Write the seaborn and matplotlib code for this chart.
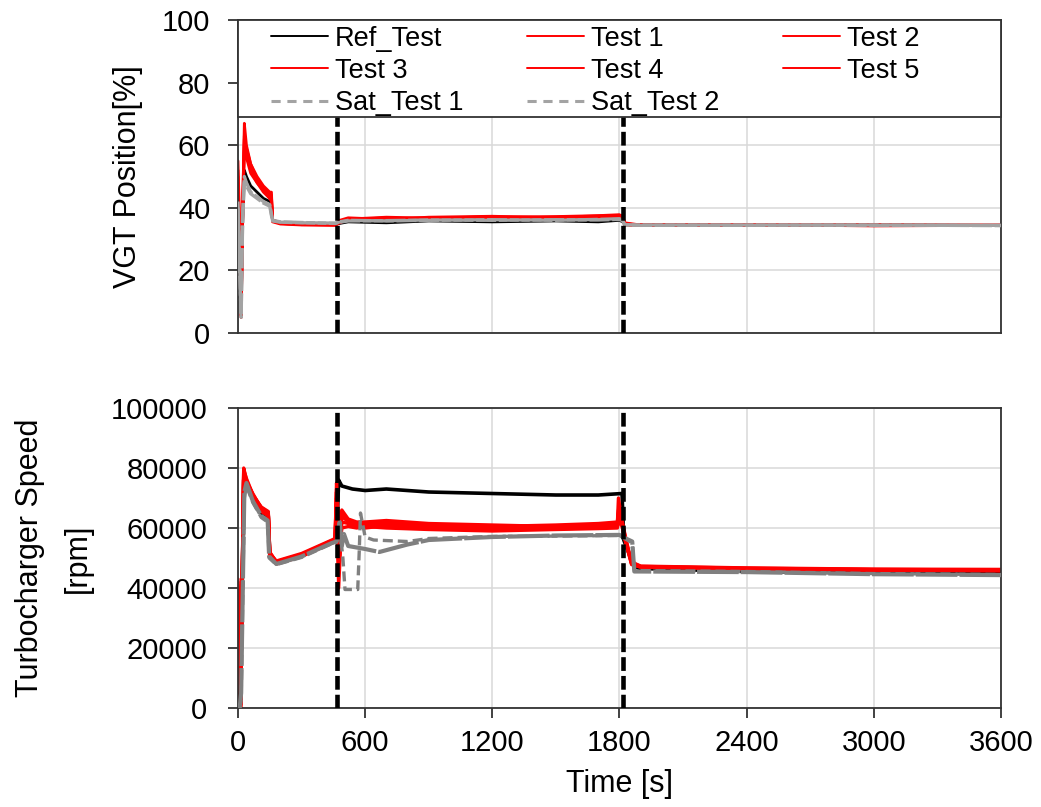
import numpy as np
import pandas as pd
import matplotlib
matplotlib.use("Agg")
import matplotlib.pyplot as plt
from matplotlib.lines import Line2D
from matplotlib.patches import Rectangle
import seaborn as sns

# ---------------- data ----------------
x_ticks = [0, 600, 1200, 1800, 2400, 3000, 3600]
vgt_ticks = [0, 20, 40, 60, 80, 100]
spd_ticks = [0, 20000, 40000, 60000, 80000, 100000]
phase_marks = [468, 1815]

test_names = ["Test 1", "Test 2", "Test 3", "Test 4", "Test 5"]

# VGT position [%]
t_vgt = [0, 8, 15, 22, 30, 40, 60, 90, 120, 150, 158, 163, 200, 300, 460, 480, 520,
         700, 900, 1200, 1500, 1700, 1800, 1815, 1825, 1900, 2400, 3000, 3600]
vgt_ref = [45, 25, 8, 35, 52, 50, 47, 45, 43, 42, 41.5, 36, 35.3, 35, 34.8, 35, 35.5,
           35.2, 35.8, 35.5, 35.8, 35.5, 36, 35.5, 34.6, 34.5, 34.4, 34.5, 34.4]
vgt_test1 = [52, 30, 6, 40, 67, 60, 54, 50, 47, 45, 45, 36, 35, 34.6, 34.5, 35.5, 36.5,
             36.5, 36.8, 37, 37, 37.3, 37.5, 37.5, 34.5, 34.5, 34.3, 34.5, 34.3]
vgt_test2 = [48, 25, 5, 38, 60, 58, 53, 49, 46, 44, 43.5, 35.5, 34.8, 34.5, 34.4, 35.2, 36.2,
             36.8, 36.5, 36.8, 37.2, 37.5, 37.8, 37, 35, 34.3, 34.5, 34.3, 34.5]
vgt_test3 = [55, 35, 8, 42, 63, 57, 52, 48, 45.5, 43, 42.5, 36, 35.2, 34.8, 34.6, 36, 36.8,
             36.3, 37, 37.3, 36.8, 37, 37.2, 36.8, 34.8, 34.6, 34.4, 34.6, 34.4]
vgt_test4 = [50, 28, 6, 36, 58, 56, 51, 48, 45, 43, 42, 35.8, 35, 34.7, 34.5, 35.8, 36,
             36.6, 36.4, 36.6, 36.9, 37.2, 37, 36.5, 34.6, 34.4, 34.6, 34.2, 34.4]
vgt_test5 = [45, 22, 5, 35, 62, 59, 54, 49, 46.5, 44.5, 44, 36.2, 35.1, 34.9, 34.7, 35.4, 36.4,
             37, 36.7, 37.1, 37, 37.4, 37.6, 37.2, 35.2, 34.5, 34.5, 34.4, 34.3]
vgt_sat1 = [40, 20, 5, 38, 50, 48, 45, 43.5, 42, 41, 38, 36, 35.5, 35.3, 35, 35.5, 36,
            35.8, 36, 36.2, 36, 36.3, 36.5, 36, 34.6, 34.5, 34.5, 34.4, 34.4]
vgt_sat2 = [42, 22, 6, 36, 48, 47, 44.5, 43, 41.5, 40.5, 37.5, 35.8, 35.4, 35.2, 35.1, 35.4, 35.8,
            35.9, 36.1, 36, 36.2, 36.1, 36.3, 35.8, 34.5, 34.4, 34.4, 34.5, 34.3]

# Turbocharger speed [rpm]
t_spd_ref = [0, 5, 12, 27, 40, 70, 110, 143, 150, 181, 300, 443, 465, 475, 490, 540, 600,
             700, 900, 1200, 1500, 1700, 1812, 1820, 1870, 1900, 2400, 3000, 3600]
spd_ref = [40000, 2000, 1000, 76000, 75000, 70000, 65000, 64000, 51000, 48500, 51000, 55000,
           56000, 76000, 74000, 73000, 72500, 73000, 72000, 71500, 71000, 71000, 71500, 56000,
           47000, 46500, 45500, 45000, 44800]

t_spd_test = [0, 5, 12, 27, 40, 70, 110, 143, 150, 181, 300, 443, 458, 465, 475, 490, 520,
              560, 600, 700, 900, 1200, 1500, 1700, 1790, 1795, 1812, 1830, 1857, 1872, 1900,
              2400, 3000, 3600]
spd_test1 = [42000, 0, 0, 80000, 76000, 71000, 67000, 65500, 52000, 48500, 51000, 55500, 56000,
             75000, 62000, 66000, 63000, 62000, 62000, 62500, 61500, 61000, 60500, 61000, 61500,
             70000, 62000, 56000, 48300, 48000, 47200, 46600, 46200, 46000]
spd_test2 = [40000, 1000, 0, 78000, 75000, 70500, 66000, 64500, 51000, 48000, 50500, 55000, 55500,
             70000, 48000, 60000, 60500, 60000, 60500, 60000, 59500, 59000, 59500, 59800, 60000,
             62000, 61000, 55000, 48000, 47500, 47000, 46400, 46000, 45800]
spd_test3 = [38000, 0, 0, 79000, 75500, 71500, 66500, 65000, 51500, 49000, 51500, 56000, 56500,
             72000, 40000, 64000, 62000, 61000, 61000, 61500, 60500, 60000, 60000, 60500, 61000,
             65000, 61500, 55500, 48500, 48200, 47300, 46700, 46300, 46200]
spd_test4 = [41000, 2000, 0, 77000, 74500, 70000, 65500, 64000, 50500, 48200, 50800, 55200, 55800,
             68000, 45000, 62000, 61500, 60500, 60000, 60800, 59800, 59500, 59800, 60000, 60500,
             63000, 60500, 55000, 47800, 47600, 46900, 46300, 45900, 45700]
spd_test5 = [43000, 1000, 0, 79500, 76500, 71200, 66800, 65200, 51800, 48800, 51200, 55800, 56200,
             73000, 55000, 65000, 62500, 61500, 61800, 62000, 61000, 60500, 61000, 61500, 62000,
             66000, 62500, 56500, 48200, 47900, 47100, 46500, 46100, 46000]

t_spd_sat1 = [0, 8, 15, 30, 40, 70, 110, 140, 147, 181, 300, 443, 465, 480, 490, 500, 520, 600,
              667, 800, 900, 1200, 1500, 1800, 1815, 1860, 1870, 1900, 2400, 3000, 3600]
spd_sat1 = [0, 0, 5000, 72000, 75000, 69000, 64000, 62500, 50500, 48000, 50500, 55000, 55500,
            62000, 54000, 58000, 54000, 53000, 52000, 54500, 56000, 57000, 57500, 57700, 57000,
            55500, 45500, 45500, 45300, 44600, 44300]
t_spd_sat2 = [0, 8, 15, 30, 40, 70, 110, 140, 147, 181, 300, 443, 465, 480, 495, 505, 565, 572,
              578, 600, 640, 800, 900, 1200, 1500, 1800, 1815, 1860, 1870, 1900, 2400, 3000, 3600]
spd_sat2 = [0, 0, 3000, 70000, 74000, 68500, 63500, 62000, 50000, 47800, 50200, 54800, 55300,
            60000, 50000, 39500, 39500, 52000, 65000, 57000, 56000, 55500, 56500, 57200, 57300,
            57500, 57000, 55000, 46000, 45800, 45500, 44800, 44500]

# ---------------- style ----------------
sns.set_theme(style="whitegrid")
plt.rcParams["font.family"] = ["Liberation Sans", "DejaVu Sans"]
for k in ["text.color", "axes.labelcolor", "xtick.color", "ytick.color"]:
    plt.rcParams[k] = "black"
plt.rcParams["axes.edgecolor"] = "#333333"
plt.rcParams["axes.linewidth"] = 1.3

RED = "#ff0000"
BLACK = "#000000"
GRAY_TOP = "#a3a3a3"
GRAY_BOT = "#808080"
EDGE = "#333333"

fig = plt.figure(figsize=(10.41, 8.07), dpi=100)
ax1 = fig.add_axes([0.2286, 0.5874, 0.7330, 0.3878])
ax2 = fig.add_axes([0.2286, 0.1227, 0.7330, 0.3717])


def draw(ax, t, v, color, lw, dashes=None, z=2):
    df = pd.DataFrame({"t": t, "v": v})
    sns.lineplot(data=df, x="t", y="v", ax=ax, color=color, lw=lw, sort=False,
                 estimator=None, zorder=z)
    if dashes is not None:
        ax.lines[-1].set_dashes(dashes)


# top panel
draw(ax1, t_vgt, vgt_ref, BLACK, 2.0)
for vals in [vgt_test1, vgt_test2, vgt_test3, vgt_test4, vgt_test5]:
    draw(ax1, t_vgt, vals, RED, 2.0)
draw(ax1, t_vgt, vgt_sat1, GRAY_TOP, 2.4, dashes=(6, 0.8), z=3)
draw(ax1, t_vgt, vgt_sat2, GRAY_TOP, 2.4, dashes=(6, 0.8), z=3)

# bottom panel
draw(ax2, t_spd_ref, spd_ref, BLACK, 2.6)
for vals in [spd_test1, spd_test2, spd_test3, spd_test4, spd_test5]:
    draw(ax2, t_spd_test, vals, RED, 2.4)
draw(ax2, t_spd_sat1, spd_sat1, GRAY_BOT, 3.0, dashes=(10, 0.5), z=3)
draw(ax2, t_spd_sat2, spd_sat2, GRAY_BOT, 2.4, dashes=(3, 1.5), z=3)

for ax in (ax1, ax2):
    for xm in phase_marks:
        ax.axvline(xm, color="black", lw=3.3, dashes=(3.0, 1.1), zorder=4)
    ax.set_xlim(0, 3600)
    ax.set_xticks(x_ticks)
    ax.grid(True, color="#d9d9d9", lw=1.1)
    ax.set_axisbelow(True)
    for s in ax.spines.values():
        s.set_visible(True)
        s.set_color(EDGE)
        s.set_linewidth(1.3)
    ax.set_facecolor("white")

ax1.set_ylim(0, 100)
ax1.set_yticks(vgt_ticks)
ax1.set_xticklabels([])
ax1.tick_params(axis="x", length=0)
ax1.tick_params(axis="y", direction="out", length=7, width=1.3,
                color=EDGE, labelsize=21, pad=13, left=True)
ax1.set_xlabel("")
ax1.set_ylabel("VGT Position[%]", fontsize=22)
ax1.yaxis.set_label_coords(-0.125, 0.5)

ax2.set_ylim(0, 100000)
ax2.set_yticks(spd_ticks)
ax2.set_yticklabels([str(v) for v in spd_ticks])
ax2.set_xticklabels([str(v) for v in x_ticks])
ax2.tick_params(axis="y", direction="out", length=7, width=1.3, color=EDGE,
                labelsize=21, pad=15, left=True)
ax2.tick_params(axis="x", direction="out", length=7, width=1.3, color=EDGE,
                labelsize=21, pad=8, bottom=True)
ax2.set_xlabel("Time [s]", fontsize=22, labelpad=9)
ax2.set_ylabel("Turbocharger Speed\n[rpm]", fontsize=22, linespacing=1.8)
ax2.yaxis.set_label_coords(-0.19, 0.5)

# legend box: white panel across the top of the upper axes
ax1.add_patch(Rectangle((0, 0.69), 1, 0.31, transform=ax1.transAxes, facecolor="white",
                        edgecolor=EDGE, lw=1.3, zorder=5, clip_on=False))

# legend (row-wise order reproduced through column-major filling)
h_ref = Line2D([], [], color=BLACK, lw=1.4)
h_test = [Line2D([], [], color=RED, lw=1.4) for _ in test_names]
h_sat1 = Line2D([], [], color=GRAY_TOP, lw=2.2, dashes=(3, 2.2))
h_sat2 = Line2D([], [], color=GRAY_TOP, lw=2.2, dashes=(3, 2.2))
handles = [h_ref, h_test[2], h_sat1, h_test[0], h_test[3], h_sat2, h_test[1], h_test[4]]
labels = ["Ref_Test", test_names[2], "Sat_Test 1", test_names[0], test_names[3],
          "Sat_Test 2", test_names[1], test_names[4]]
leg = ax1.legend(handles, labels, ncol=3, loc="upper left",
                 bbox_to_anchor=(0.043, 0.982), borderaxespad=0,
                 fontsize=19.5, frameon=False, handlelength=2.1, handletextpad=0.26,
                 labelspacing=0.23, borderpad=0, columnspacing=2.35)
leg.set_zorder(10)

fig.savefig("out.png", dpi=100, facecolor="white")
